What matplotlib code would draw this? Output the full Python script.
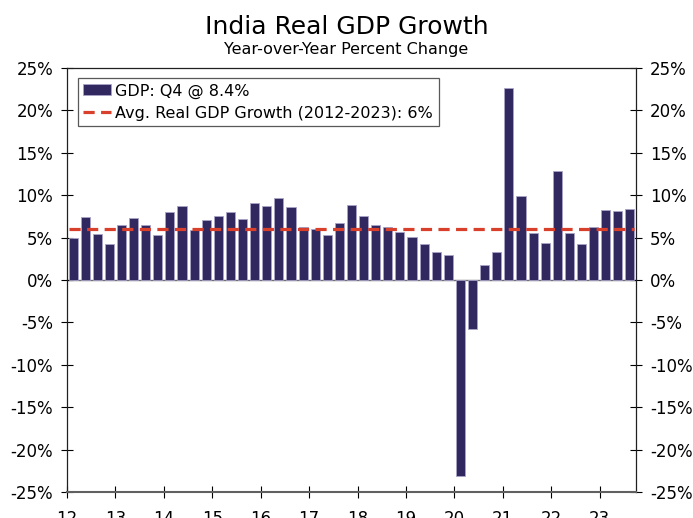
import matplotlib.pyplot as plt
import numpy as np

# quarterly yoy real GDP growth, 2012 Q2 .. 2023 Q4
gdp = [4.9, 7.4, 5.4, 4.3,
       6.5, 7.3, 6.5, 5.3,
       8.0, 8.7, 5.9, 7.1,
       7.6, 8.0, 7.2, 9.1,
       8.7, 9.7, 8.6, 6.3,
       6.0, 5.3, 6.7, 8.9,
       7.5, 6.5, 6.2, 5.7,
       5.1, 4.3, 3.3, 2.9,
       -23.1, -5.8, 1.8, 3.3,
       22.6, 9.9, 5.5, 4.4,
       12.8, 5.5, 4.3, 6.2,
       8.2, 8.1, 8.4]
avg_growth = 6.0
year_labels = ['12', '13', '14', '15', '16', '17', '18', '19', '20', '21', '22', '23']
y_ticks = [-25, -20, -15, -10, -5, 0, 5, 10, 15, 20, 25]

bar_color = '#30285f'
line_color = '#d9402b'

fig = plt.figure(figsize=(6.93, 5.18), dpi=100)
ax = fig.add_axes([0.0967, 0.0502, 0.821, 0.8185])

x = np.arange(len(gdp))
bars = ax.bar(x, gdp, width=0.75, color=bar_color, edgecolor='#a9a4c8', linewidth=0.6,
              label='GDP: Q4 @ 8.4%', zorder=2)
ax.axhline(0, color='#707070', linewidth=1.0, zorder=1)
avg_line, = ax.plot([-0.3, len(gdp) - 0.7], [avg_growth, avg_growth], color=line_color,
                    linestyle=(0, (3.5, 2.0)), linewidth=2.3,
                    label='Avg. Real GDP Growth (2012-2023): 6%', zorder=3)

ax.set_xlim(-0.5, len(gdp) - 0.5)
ax.set_ylim(-25, 25)
ax.set_yticks(y_ticks)
ax.set_yticklabels([f'{v}%' for v in y_ticks])
ax.set_xticks(np.arange(len(year_labels)) * 4 - 0.5)
ax.set_xticklabels(year_labels)

ax.tick_params(axis='both', direction='inout', length=8, width=0.8,
               labelsize=12, colors='black')
ax.tick_params(axis='y', right=True, labelright=True, pad=6)
ax.tick_params(axis='x', pad=9)
for s in ax.spines.values():
    s.set_color('#202020')
    s.set_linewidth(0.9)
ax.spines['bottom'].set_color('#606060')
ax.spines['bottom'].set_linewidth(1.5)

leg = ax.legend([bars, avg_line], [bars.get_label(), avg_line.get_label()],
                loc='upper left', bbox_to_anchor=(0.019, 0.977), fontsize=11.5,
                frameon=True, fancybox=False, borderaxespad=0, handlelength=1.75,
                handletextpad=0.25, borderpad=0.35, labelspacing=0.45)
leg.get_frame().set_edgecolor('#303030')
leg.get_frame().set_linewidth(0.9)

fig.text(0.5, 0.948, 'India Real GDP Growth', ha='center', va='center', fontsize=18)
fig.text(0.5, 0.905, 'Year-over-Year Percent Change', ha='center', va='center', fontsize=11.5)

fig.savefig('out.png', dpi=100)
